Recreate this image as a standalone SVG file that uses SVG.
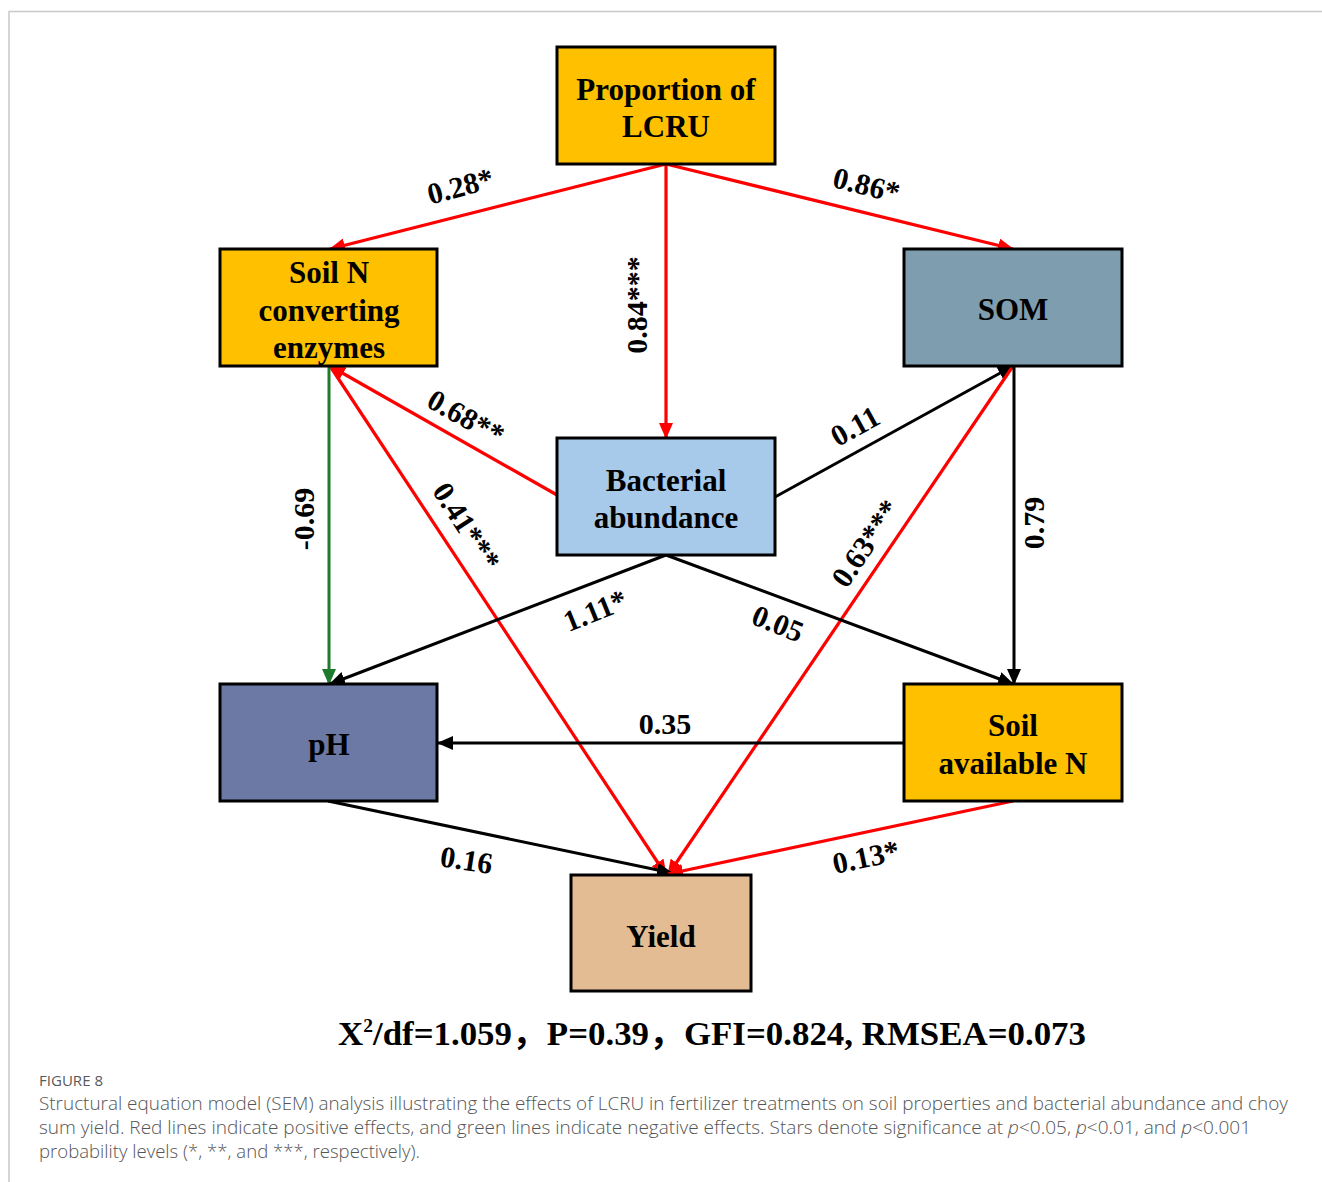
<svg xmlns="http://www.w3.org/2000/svg" width="1322" height="1182" viewBox="0 0 1322 1182">
<style>
.box{stroke:#000;stroke-width:3}
.nt{font-family:"Liberation Serif","Times New Roman",serif;font-weight:bold;font-size:31px;fill:#000;text-anchor:middle}
.lb{font-family:"Liberation Serif","Times New Roman",serif;font-weight:bold;font-size:30px;fill:#000;text-anchor:middle}
.r{stroke:#FF0000;stroke-width:3.2;fill:none;marker-end:url(#ar)}
.k{stroke:#000;stroke-width:3;fill:none;marker-end:url(#ak)}
.g{stroke:#1E7B2E;stroke-width:3;fill:none;marker-end:url(#ag)}
.cap{font-family:"Open Sans","Noto Sans",sans-serif;font-weight:300;fill:#555;font-size:17.5px}
</style>
<defs>
<marker id="ar" markerUnits="userSpaceOnUse" markerWidth="16" markerHeight="14" refX="15" refY="7" orient="auto"><path d="M0,0 L16,7 L0,14 Z" fill="#FF0000"/></marker>
<marker id="ak" markerUnits="userSpaceOnUse" markerWidth="16" markerHeight="14" refX="15" refY="7" orient="auto"><path d="M0,0 L16,7 L0,14 Z" fill="#000"/></marker>
<marker id="ag" markerUnits="userSpaceOnUse" markerWidth="16" markerHeight="14" refX="15" refY="7" orient="auto"><path d="M0,0 L16,7 L0,14 Z" fill="#1E7B2E"/></marker>
</defs>
<rect width="1322" height="1182" fill="#fff"/>
<path d="M9,1182 L9,11.5 L1322,11.5" stroke="#C8C8C8" stroke-width="1.5" fill="none"/>

<g id="connectors">
<line class="r" x1="666" y1="164" x2="330" y2="249"/>
<line class="r" x1="666" y1="164" x2="666" y2="438"/>
<line class="r" x1="666" y1="164" x2="1013" y2="249"/>
<line class="r" x1="557" y1="495" x2="330" y2="366"/>
<line class="r" x1="330" y1="366" x2="666" y2="875"/>
<line class="g" x1="329" y1="367" x2="329" y2="684"/>
<line class="k" x1="775" y1="497" x2="1013" y2="366"/>
<line class="r" x1="1013" y1="366" x2="668" y2="875"/>
<line class="k" x1="1014" y1="366" x2="1014" y2="684"/>
<line class="k" x1="666" y1="555" x2="330" y2="684"/>
<line class="k" x1="666" y1="555" x2="1013" y2="684"/>
<line class="k" x1="904" y1="743" x2="438" y2="743"/>
<line class="k" x1="328" y1="801" x2="672" y2="873"/>
<line class="r" x1="1013" y1="801" x2="668" y2="874"/>
</g>

<g id="labels">
<text class="lb" transform="translate(463,196) rotate(-15)">0.28*</text>
<text class="lb" transform="translate(864,195) rotate(14)">0.86*</text>
<text class="lb" transform="translate(647,305) rotate(-90)">0.84***</text>
<text class="lb" transform="translate(461,426) rotate(29)">0.68**</text>
<text class="lb" transform="translate(458,532) rotate(57)">0.41***</text>
<text class="lb" transform="translate(314,519) rotate(-90)">-0.69</text>
<text class="lb" transform="translate(860,435) rotate(-29)">0.11</text>
<text class="lb" transform="translate(874,549) rotate(-56)">0.63***</text>
<text class="lb" transform="translate(1044,523) rotate(-90)">0.79</text>
<text class="lb" transform="translate(599,620) rotate(-22)">1.11*</text>
<text class="lb" transform="translate(774,633) rotate(22)">0.05</text>
<text class="lb" x="665" y="734">0.35</text>
<text class="lb" transform="translate(465,870) rotate(9)">0.16</text>
<text class="lb" transform="translate(868,867) rotate(-12)">0.13*</text>
</g>

<g id="n-lcru"><rect class="box" x="557" y="47" width="218" height="117" fill="#FFC000"/><text class="nt" x="666" y="100">Proportion of</text><text class="nt" x="666" y="137">LCRU</text></g>
<g id="n-soiln"><rect class="box" x="220" y="249" width="217" height="117" fill="#FFC000"/><text class="nt" x="329" y="283">Soil N</text><text class="nt" x="329" y="321">converting</text><text class="nt" x="329" y="358">enzymes</text></g>
<g id="n-som"><rect class="box" x="904" y="249" width="218" height="117" fill="#7E9DAE"/><text class="nt" x="1013" y="320">SOM</text></g>
<g id="n-bact"><rect class="box" x="557" y="438" width="218" height="117" fill="#A7C9EA"/><text class="nt" x="666" y="491">Bacterial</text><text class="nt" x="666" y="528">abundance</text></g>
<g id="n-ph"><rect class="box" x="220" y="684" width="217" height="117" fill="#6B79A4"/><text class="nt" x="329" y="755">pH</text></g>
<g id="n-avn"><rect class="box" x="904" y="684" width="218" height="117" fill="#FFC000"/><text class="nt" x="1013" y="736">Soil</text><text class="nt" x="1013" y="774">available N</text></g>
<g id="n-yield"><rect class="box" x="571" y="875" width="180" height="116" fill="#E4BC94"/><text class="nt" x="661" y="947">Yield</text></g>

<text x="338" y="1045" textLength="748" lengthAdjust="spacingAndGlyphs" style="font-family:'Liberation Serif','Noto Sans CJK SC',serif;font-weight:bold;font-size:34px;fill:#000">X<tspan font-size="19" dy="-13">2</tspan><tspan dy="13">/df=1.059，P=0.39，GFI=0.824, RMSEA=0.073</tspan></text>

<text x="39" y="1086" textLength="64" lengthAdjust="spacingAndGlyphs" style="font-family:'Open Sans','Noto Sans',sans-serif;font-size:14.5px;fill:#5a5a5a">FIGURE 8</text>
<text class="cap" x="39" y="1110" textLength="1249" lengthAdjust="spacingAndGlyphs">Structural equation model (SEM) analysis illustrating the effects of LCRU in fertilizer treatments on soil properties and bacterial abundance and choy</text>
<text class="cap" x="39" y="1134" textLength="1212" lengthAdjust="spacingAndGlyphs">sum yield. Red lines indicate positive effects, and green lines indicate negative effects. Stars denote significance at <tspan font-style="italic">p</tspan>&lt;0.05, <tspan font-style="italic">p</tspan>&lt;0.01, and <tspan font-style="italic">p</tspan>&lt;0.001</text>
<text class="cap" x="39" y="1158" textLength="381" lengthAdjust="spacingAndGlyphs">probability levels (*, **, and ***, respectively).</text>
</svg>
